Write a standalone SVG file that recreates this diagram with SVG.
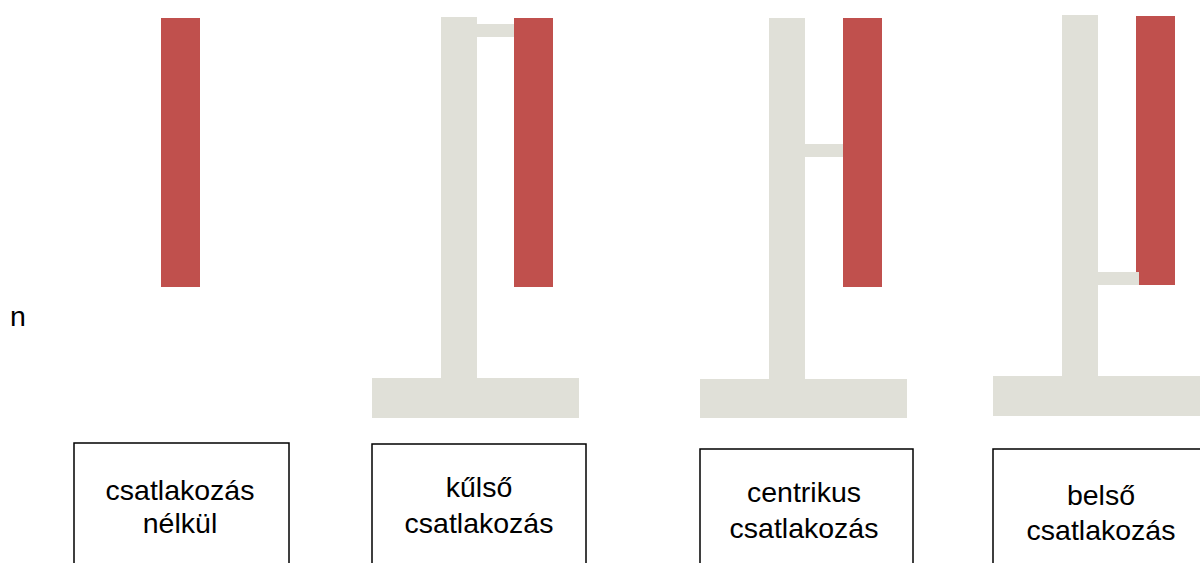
<svg xmlns="http://www.w3.org/2000/svg" width="1200" height="563" viewBox="0 0 1200 563">
  <style>
    .post { fill: #E0E0D8; }
    .bar { fill: #C0504D; }
    .box { fill: #FFFFFF; stroke: #000000; stroke-width: 1.5; }
    .lbl { font-family: "Liberation Sans", Arial, sans-serif; font-size: 28.5px; fill: #000000; text-anchor: middle; }
  </style>
  <rect width="1200" height="563" fill="#FFFFFF"/>

  <text class="lbl" x="18" y="326" font-size="26">n</text>

  <!-- variant 1: no joint -->
  <g id="variant-none">
    <rect class="bar" x="161" y="18" width="39" height="269"/>
  </g>

  <!-- variant 2: outer joint -->
  <g id="variant-outer">
    <rect class="post" x="441" y="17" width="36" height="362"/>
    <rect class="post" x="372" y="378" width="207" height="40"/>
    <rect class="post" x="476" y="24" width="39" height="13"/>
    <rect class="bar" x="514" y="18" width="39" height="269"/>
  </g>

  <!-- variant 3: centric joint -->
  <g id="variant-centric">
    <rect class="post" x="769" y="18" width="36" height="362"/>
    <rect class="post" x="700" y="379" width="207" height="39"/>
    <rect class="post" x="804" y="144" width="40" height="13"/>
    <rect class="bar" x="843" y="18" width="39" height="269"/>
  </g>

  <!-- variant 4: inner joint -->
  <g id="variant-inner">
    <rect class="post" x="1062" y="15" width="36" height="362"/>
    <rect class="post" x="993" y="376" width="207" height="40"/>
    <rect class="bar" x="1136" y="16" width="39" height="269"/>
    <rect class="post" x="1097" y="272" width="42" height="13"/>
  </g>

  <!-- captions -->
  <g id="label-none">
    <rect class="box" x="74" y="443" width="215" height="140"/>
    <text class="lbl" x="180" y="500">csatlakozás</text>
    <text class="lbl" x="180" y="533">nélkül</text>
  </g>
  <g id="label-outer">
    <rect class="box" x="372" y="444" width="214" height="140"/>
    <text class="lbl" x="479" y="497">kűlső</text>
    <text class="lbl" x="479" y="533">csatlakozás</text>
  </g>
  <g id="label-centric">
    <rect class="box" x="700" y="449" width="213" height="140"/>
    <text class="lbl" x="804" y="502">centrikus</text>
    <text class="lbl" x="804" y="538">csatlakozás</text>
  </g>
  <g id="label-inner">
    <rect class="box" x="993" y="449" width="216" height="140"/>
    <text class="lbl" x="1101" y="505">belső</text>
    <text class="lbl" x="1101" y="540">csatlakozás</text>
  </g>
</svg>
